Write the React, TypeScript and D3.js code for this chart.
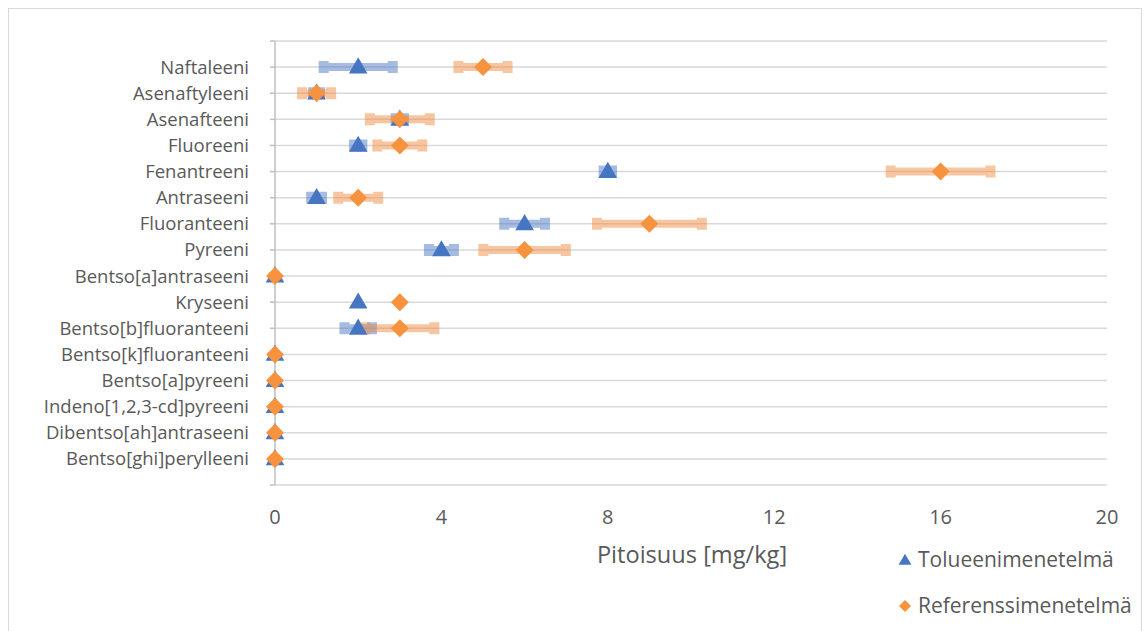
import React from "react";
import * as d3 from "d3";

const categories = [
  "Naftaleeni",
  "Asenaftyleeni",
  "Asenafteeni",
  "Fluoreeni",
  "Fenantreeni",
  "Antraseeni",
  "Fluoranteeni",
  "Pyreeni",
  "Bentso[a]antraseeni",
  "Kryseeni",
  "Bentso[b]fluoranteeni",
  "Bentso[k]fluoranteeni",
  "Bentso[a]pyreeni",
  "Indeno[1,2,3-cd]pyreeni",
  "Dibentso[ah]antraseeni",
  "Bentso[ghi]perylleeni",
];

const tolueeni = [2, 1, 3, 2, 8, 1, 6, 4, 0, 2, 2, 0, 0, 0, 0, 0];
const tolueeniErr = [0.83, 0.08, 0.1, 0.1, 0.1, 0.13, 0.49, 0.3, 0, 0, 0.33, 0, 0, 0, 0, 0];
const referenssi = [5, 1, 3, 3, 16, 2, 9, 6, 0, 3, 3, 0, 0, 0, 0, 0];
const referenssiErr = [0.59, 0.35, 0.72, 0.54, 1.2, 0.48, 1.26, 0.99, 0, 0, 0.83, 0, 0, 0, 0, 0];

const xTicks = [0, 4, 8, 12, 16, 20];
const seriesNames = ["Tolueenimenetelmä", "Referenssimenetelmä"];
const xTitle = "Pitoisuus [mg/kg]";

const W = 1144;
const H = 631;
const FONT = "'Open Sans', sans-serif";
const BLUE = "#4675C2";
const ORANGE = "#F7923F";
const TEXT = "#595959";

export default function App() {
  const x = d3.scaleLinear().domain([0, 20]).range([275, 1107]);
  const n = categories.length;
  const y = d3.scaleLinear().domain([0, n + 1]).range([485, 41]);
  const rowY = (i: number) => y(n - i);
  const gridVals = d3.range(0, n + 2);

  const tri = d3.symbol().type(d3.symbolTriangle).size(150)();
  const dia = (s: number) => `M0,${-s}L${s},0L0,${s}L${-s},0Z`;

  const errBars = (vals: number[], errs: number[], color: string, key: string) => (
    <g key={key} opacity={0.48}>
      {vals.map((v, i) => {
        const e = errs[i];
        if (!e) return null;
        const cy = rowY(i);
        const x0 = x(v - e);
        const x1 = x(v + e);
        const capW = 10;
        const capH = 12;
        const barH = 8;
        const d =
          `M${x0 - capW / 2},${cy - capH / 2}h${capW}v${(capH - barH) / 2}` +
          `H${x1 - capW / 2}v${-(capH - barH) / 2}h${capW}v${capH}h${-capW}v${-(capH - barH) / 2}` +
          `H${x0 + capW / 2}v${(capH - barH) / 2}h${-capW}Z`;
        return <path key={i} d={d} fill={color} />;
      })}
    </g>
  );

  return (
    <svg
      width={W}
      height={H}
      style={{ position: "absolute", left: 0, top: 0, display: "block", background: "#fff" }}
    >
      <rect x={8.5} y={8.5} width={1133} height={640} fill="#fff" stroke="#d9d9d9" strokeWidth={1} />

      {/* gridlines */}
      {gridVals.map((g) => (
        <line key={g} x1={x(0)} x2={x(20)} y1={y(g)} y2={y(g)} stroke="#d9d9d9" strokeWidth={1.5} />
      ))}

      {/* vertical axis */}
      <line x1={x(0)} x2={x(0)} y1={y(0)} y2={y(n + 1)} stroke="#bfbfbf" strokeWidth={1.5} />
      {gridVals.map((g) => (
        <line key={"t" + g} x1={x(0) - 5} x2={x(0)} y1={y(g)} y2={y(g)} stroke="#bfbfbf" strokeWidth={1.5} />
      ))}

      {/* category labels */}
      {categories.map((c, i) => (
        <text
          key={c}
          x={249}
          y={rowY(i)}
          dy="0.35em"
          textAnchor="end"
          fontFamily={FONT}
          fontSize={18.5}
          fill={TEXT}
        >
          {c}
        </text>
      ))}

      {/* x tick labels */}
      {xTicks.map((t) => (
        <text
          key={t}
          x={x(t)}
          y={517}
          dy="0.35em"
          textAnchor="middle"
          fontFamily={FONT}
          fontSize={20}
          fill={TEXT}
        >
          {t}
        </text>
      ))}

      <text x={692} y={555} dy="0.35em" textAnchor="middle" fontFamily={FONT} fontSize={23.6} fill={TEXT}>
        {xTitle}
      </text>

      {/* error bars */}
      {errBars(tolueeni, tolueeniErr, "#4472C4", "eb1")}
      {errBars(referenssi, referenssiErr, "#F08A3C", "eb2")}

      {/* markers */}
      {tolueeni.map((v, i) => (
        <path key={"m1" + i} d={tri} transform={`translate(${x(v)},${rowY(i) + 1})`} fill={BLUE} />
      ))}
      {referenssi.map((v, i) => (
        <path key={"m2" + i} d={dia(9)} transform={`translate(${x(v)},${rowY(i)})`} fill={ORANGE} />
      ))}

      {/* legend */}
      <path d={d3.symbol().type(d3.symbolTriangle).size(70)()} transform="translate(905,561)" fill={BLUE} />
      <text x={918} y={560} dy="0.35em" fontFamily={FONT} fontSize={21} fill={TEXT}>
        {seriesNames[0]}
      </text>
      <path d={dia(6)} transform="translate(905,606)" fill={ORANGE} />
      <text x={918} y={606} dy="0.35em" fontFamily={FONT} fontSize={21} fill={TEXT}>
        {seriesNames[1]}
      </text>
    </svg>
  );
}
